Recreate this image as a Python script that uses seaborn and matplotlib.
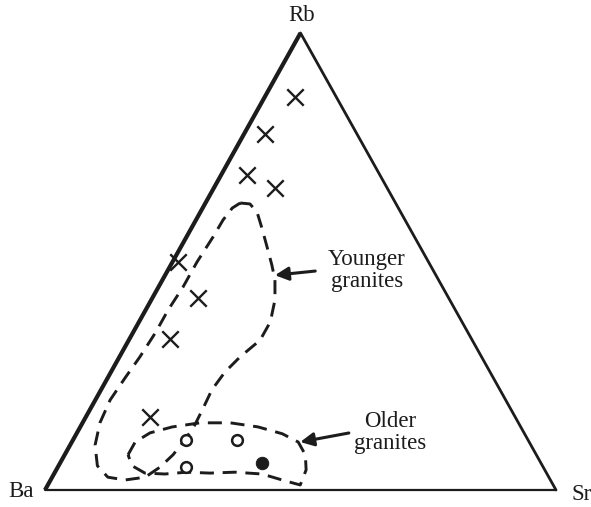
import numpy as np
import pandas as pd
import matplotlib
matplotlib.use('Agg')
import matplotlib.pyplot as plt
import seaborn as sns

# ternary data in percent: (Rb, Sr); Ba = 100 - Rb - Sr
younger_rb = [86, 78, 69, 66, 50, 42, 33, 16]
younger_sr = [6, 4, 5, 12, 1, 9, 8, 12.5]

older_open_rb = [11, 11, 5]
older_open_sr = [22, 32, 25]
older_filled_rb = [6]
older_filled_sr = [39.5]

# hand-drawn fields (dashed outlines)
young_field_rb = [62.8, 62.6, 60.8, 57.3, 53.0, 49.2, 46.0, 41.6, 36.8, 32.8, 29.1, 25.8,
                  21.9, 17.9, 14.2, 10.9, 7.7, 5.0, 2.8, 2.2, 2.8, 5.3, 9.8, 14.7, 19.7,
                  24.5, 29.1, 34.4, 39.4, 44.4, 49.9, 55.4, 59.1, 61.7]
young_field_sr = [6.8, 8.8, 11.1, 13.8, 17.0, 19.8, 22.0, 24.2, 25.7, 25.7, 23.6, 22.3,
                  21.7, 22.0, 22.2, 21.9, 21.2, 20.0, 18.2, 14.6, 10.9, 7.6, 4.9, 3.4, 2.9,
                  3.4, 4.0, 4.4, 4.4, 4.8, 4.8, 5.2, 5.3, 5.8]

old_field_rb = [7.7, 10.5, 12.5, 13.8, 14.7, 14.7, 13.8, 12.3, 10.5, 7.7, 4.4, 1.1,
                2.0, 3.5, 3.9, 3.7, 3.9, 3.5, 3.7, 5.3]
old_field_sr = [12.4, 12.4, 14.3, 18.0, 23.0, 28.9, 34.8, 40.3, 44.3, 47.1, 48.9, 49.4,
                46.0, 40.7, 35.2, 30.4, 25.8, 21.7, 17.7, 14.4]

# arrow targets
young_arrow_rb, young_arrow_sr = 47.0, 21.5
old_arrow_rb, old_arrow_sr = 10.5, 44.7

INK = '#1c1c1c'
H = np.sqrt(3) / 2


def tern_xy(rb, sr):
    rb = np.asarray(rb, dtype=float) / 100.0
    sr = np.asarray(sr, dtype=float) / 100.0
    return sr + rb / 2.0, rb * H


def main():
    sns.set_style('white')
    plt.rcParams['font.family'] = ['Liberation Serif', 'DejaVu Serif']

    fig = plt.figure(figsize=(5.91, 5.07), dpi=100)
    ax = fig.add_axes([45 / 591, 17 / 507, 511 / 591, 457 / 507])
    ax.set_xlim(0, 1)
    ax.set_ylim(0, H)
    ax.set_axis_off()

    # triangle frame
    ba = tern_xy(0, 0)
    sr = tern_xy(0, 100)
    rb = tern_xy(100, 0)
    ax.plot([ba[0], rb[0]], [ba[1], rb[1]], color=INK, lw=3.0, clip_on=False,
            solid_capstyle='butt')
    ax.plot([rb[0], sr[0]], [rb[1], sr[1]], color=INK, lw=2.0, clip_on=False)
    ax.plot([ba[0], sr[0]], [ba[1], sr[1]], color=INK, lw=1.6, clip_on=False)

    # dashed fields
    for f_rb, f_sr in [(young_field_rb, young_field_sr), (old_field_rb, old_field_sr)]:
        fx, fy = tern_xy(f_rb + f_rb[:1], f_sr + f_sr[:1])
        df = pd.DataFrame({'x': fx, 'y': fy})
        sns.lineplot(data=df, x='x', y='y', sort=False, estimator=None, ax=ax,
                     color=INK, lw=2.1, linestyle=(0, (4.8, 3.0)), clip_on=False)

    # samples
    yx, yy = tern_xy(younger_rb, younger_sr)
    sns.scatterplot(x=yx, y=yy, marker='x', s=140, color=INK, linewidth=1.7, ax=ax,
                    clip_on=False)
    ox, oy = tern_xy(older_open_rb, older_open_sr)
    sns.scatterplot(x=ox, y=oy, marker='o', s=60, facecolor='white', edgecolor=INK,
                    linewidth=1.8, ax=ax, zorder=5)
    fx, fy = tern_xy(older_filled_rb, older_filled_sr)
    sns.scatterplot(x=fx, y=fy, marker='o', s=80, color=INK, edgecolor=INK, ax=ax,
                    zorder=5)

    # arrows and labels
    arrow = dict(arrowstyle='-|>', color=INK, lw=2.2, mutation_scale=20,
                 shrinkA=0, shrinkB=0)
    ax.annotate('', xy=tern_xy(young_arrow_rb, young_arrow_sr),
                xytext=(29, 3), textcoords='offset points', arrowprops=arrow)
    ax.annotate('', xy=tern_xy(old_arrow_rb, old_arrow_sr),
                xytext=(35, 6.5), textcoords='offset points', arrowprops=arrow)

    ax.text(0.630, 0.480, 'Younger\ngranites', transform=ax.transAxes, ha='center',
            va='center', fontsize=16.5, color=INK, linespacing=1.05)
    ax.text(0.675, 0.125, 'Older\ngranites', transform=ax.transAxes, ha='center',
            va='center', fontsize=16.5, color=INK, linespacing=1.05)

    ax.text(0.503, 1.039, 'Rb', transform=ax.transAxes, ha='center', va='center',
            fontsize=16.5, color=INK)
    ax.text(-0.0215, -0.004, 'Ba', transform=ax.transAxes, ha='right', va='center',
            fontsize=16.5, color=INK)
    ax.text(1.031, -0.009, 'Sr', transform=ax.transAxes, ha='left', va='center',
            fontsize=16.5, color=INK)

    fig.savefig('out.png', dpi=100, facecolor='white')


if __name__ == '__main__':
    main()
